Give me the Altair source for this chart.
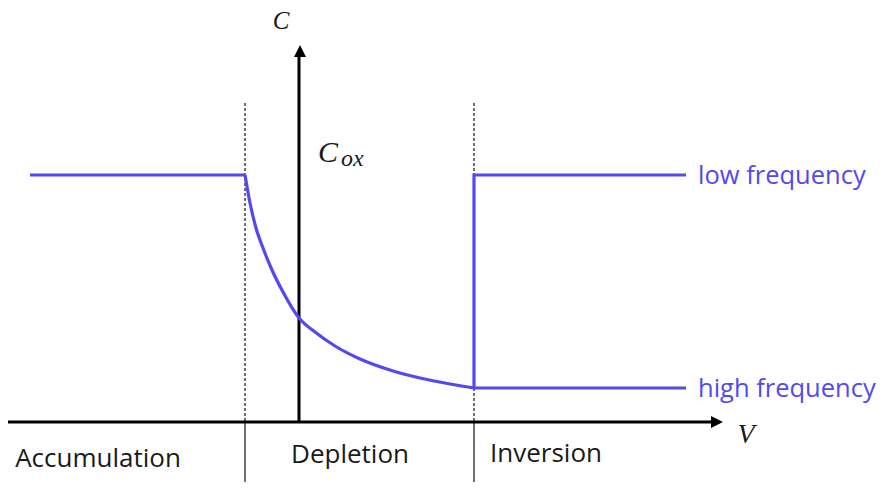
import altair as alt
import pandas as pd

# ---- data (V, C in arbitrary units) ----
acc_V = [-2.69, -0.54]
acc_C = [2.47, 2.47]

dep_V = [-0.54, -0.49, -0.43, -0.36, -0.27, -0.16, 0.0, 0.16, 0.36, 0.61, 0.91, 1.21, 1.51, 1.75]
dep_C = [2.47, 2.19, 1.94, 1.74, 1.52, 1.30, 1.04, 0.90, 0.76, 0.63, 0.52, 0.44, 0.38, 0.34]

low_V = [1.75, 1.75, 3.87]
low_C = [0.34, 2.47, 2.47]

high_V = [1.75, 3.87]
high_C = [0.34, 0.34]

boundaries = [-0.54, 1.75]          # region boundaries (dashed)
regions = ["Accumulation", "Depletion", "Inversion"]
region_V = [-2.01, 0.51, 2.47]
region_C = [-0.45, -0.41, -0.40]

series_labels = ["low frequency", "high frequency"]
series_label_C = [2.38, 0.25]
series_label_V = [3.99, 3.99]

x_dom = [-2.91, 5.84]
y_dom = [-0.60, 4.14]
v_axis_end = 4.13
c_axis_end = 3.65
dash_top = 3.19

BLUE = "#5448F0"
INK = "#1a1a1a"
W, H = 875, 474

xs = alt.Scale(domain=x_dom, nice=False, zero=False)
ys = alt.Scale(domain=y_dom, nice=False, zero=False)
X = lambda f: alt.X(f, type="quantitative", scale=xs, axis=None)
Y = lambda f: alt.Y(f, type="quantitative", scale=ys, axis=None)


def table(v, c, name):
    return pd.DataFrame({"V": v, "C": c, "s": name, "o": list(range(len(v)))})


straight_df = pd.concat([table(acc_V, acc_C, "acc"), table(low_V, low_C, "low"),
                         table(high_V, high_C, "high")])
dep_df = table(dep_V, dep_C, "dep")

straight = alt.Chart(straight_df).mark_line(color=BLUE, strokeWidth=3.2, strokeJoin="miter").encode(
    x=X("V"), y=Y("C"), detail="s:N", order="o:Q")
depletion = alt.Chart(dep_df).mark_line(color=BLUE, strokeWidth=3.2, interpolate="monotone").encode(
    x=X("V"), y=Y("C"), order="o:Q")

# axes
axes_df = pd.DataFrame([
    {"V": x_dom[0], "V2": v_axis_end, "C": 0.0, "C2": 0.0},
    {"V": 0.0, "V2": 0.0, "C": 0.0, "C2": c_axis_end},
])
axes = alt.Chart(axes_df).mark_rule(color="black", strokeWidth=3).encode(
    x=X("V"), x2="V2", y=Y("C"), y2="C2")

arrow_r = alt.Chart(pd.DataFrame({"V": [v_axis_end + 0.05], "C": [0.0]})).mark_point(
    shape="M-1,-1L1,0L-1,1Z", size=144, filled=True, color="black", opacity=1).encode(x=X("V"), y=Y("C"))
arrow_u = alt.Chart(pd.DataFrame({"V": [0.01], "C": [c_axis_end + 0.06]})).mark_point(
    shape="M-1,1L0,-1L1,1Z", size=144, filled=True, color="black", opacity=1).encode(x=X("V"), y=Y("C"))

bnd_df = pd.DataFrame({"V": boundaries, "top": [dash_top] * 2, "zero": [0.0] * 2, "bot": [y_dom[0]] * 2})
dashed = alt.Chart(bnd_df).mark_rule(color="#111111", strokeWidth=1.2, strokeDash=[3, 2]).encode(
    x=X("V"), y=Y("top"), y2="zero")
solid = alt.Chart(bnd_df).mark_rule(color="#111111", strokeWidth=1.2).encode(
    x=X("V"), y=Y("zero"), y2="bot")

reg_df = pd.DataFrame({"V": region_V, "C": region_C, "t": regions})
reg_text = alt.Chart(reg_df).mark_text(font="Open Sans", fontSize=26, color=INK,
                                       align="center", baseline="alphabetic").encode(
    x=X("V"), y=Y("C"), text="t:N")

ser_df = pd.DataFrame({"V": series_label_V, "C": series_label_C, "t": series_labels})
ser_text = alt.Chart(ser_df).mark_text(font="Open Sans", fontSize=25.5, color=BLUE,
                                       align="left", baseline="alphabetic").encode(
    x=X("V"), y=Y("C"), text="t:N")

sym_df = pd.DataFrame({"V": [-0.18, 4.47], "C": [3.93, -0.21], "t": ["C", "V"], "fs": [25, 28]})
sym_text = alt.Chart(sym_df).mark_text(font="Liberation Serif", fontStyle="italic",
                                       color=INK, align="center", baseline="alphabetic").encode(
    x=X("V"), y=Y("C"), text="t:N", size=alt.Size("fs:Q", scale=None, legend=None))

cox_c = alt.Chart(pd.DataFrame({"V": [0.19], "C": [2.60], "t": ["C"]})).mark_text(
    font="Liberation Serif", fontStyle="italic", fontSize=30, color=INK,
    align="left", baseline="alphabetic").encode(x=X("V"), y=Y("C"), text="t:N")
cox_s = alt.Chart(pd.DataFrame({"V": [0.42], "C": [2.56], "t": ["ox"]})).mark_text(
    font="Liberation Serif", fontStyle="italic", fontSize=24, color=INK,
    align="left", baseline="alphabetic").encode(x=X("V"), y=Y("C"), text="t:N")

chart = alt.layer(dashed, solid, axes, arrow_r, arrow_u, straight, depletion,
                  reg_text, ser_text, sym_text, cox_c, cox_s).properties(
    width=W, height=H, padding=0, background="white",
    autosize=alt.AutoSizeParams(type="none")
).configure_view(stroke=None)

chart.save("out.html", embed_options={"renderer": "svg", "actions": False})
